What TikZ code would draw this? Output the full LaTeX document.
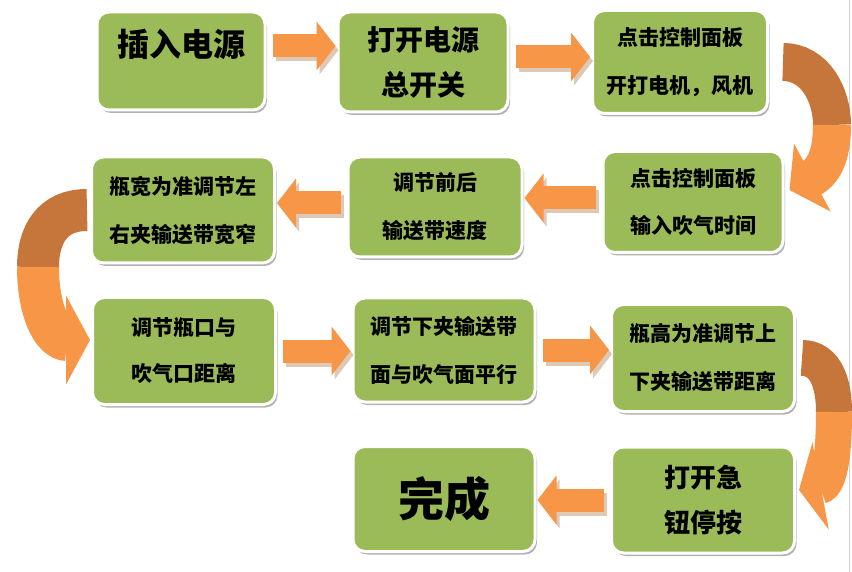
\documentclass[tikz,border=0pt]{standalone}
\usepackage{fontspec}
\setmainfont{Noto Sans CJK SC}
\usetikzlibrary{arrows.meta, shadows}
\definecolor{verde}{RGB}{155,187,89}
\definecolor{arancio}{RGB}{247,150,70}
\definecolor{arancioscuro}{RGB}{198,118,58}
\definecolor{ombra}{RGB}{222,200,182}
\tikzset{
  blocco/.style={rectangle, rounded corners=12pt, fill=verde, draw=white, line width=3pt,
    align=center, inner sep=0pt, text=black,
    drop shadow={shadow xshift=2pt, shadow yshift=-3pt, fill=black, opacity=0.3}},
  freccia/.style={arancio, line width=23pt, shorten <=6pt, shorten >=1pt,
    -{Triangle[length=19pt,width=48pt]}},
  frecciaombra/.style={freccia, ombra, transform canvas={xshift=3pt,yshift=-4pt}},
  curva/.style={arancio, line width=38pt},
}
\begin{document}
\begin{tikzpicture}[x=1pt,y=-1pt]
        \useasboundingbox (0,0) rectangle (852,572);
        %bordo pagina
        \draw[gray!35, line width=1pt] (849,0) -- (849,572);
        %disegno blocchi riga 1
        \node[blocco, minimum width=168pt, minimum height=98pt, font=\bfseries\fontsize{32}{34}\selectfont] (b1) at (181,61) {插入电源\\\phantom{插}};
        \node[blocco, minimum width=170pt, minimum height=100pt, font=\bfseries\fontsize{28}{45}\selectfont] (b2) at (423,62) {打开电源\\总开关};
        \node[blocco, minimum width=175pt, minimum height=103pt, font=\bfseries\fontsize{21}{48}\selectfont] (b3) at (680,62) {点击控制面板\\开打电机，风机};
        %disegno blocchi riga 2
        \node[blocco, minimum width=180pt, minimum height=101pt, font=\bfseries\fontsize{21}{47}\selectfont] (b4) at (693,202) {点击控制面板\\输入吹气时间};
        \node[blocco, minimum width=174pt, minimum height=100pt, font=\bfseries\fontsize{21}{48}\selectfont] (b5) at (435,207) {调节前后\\输送带速度};
        \node[blocco, minimum width=183pt, minimum height=106pt, font=\bfseries\fontsize{21}{48}\selectfont] (b6) at (183,210) {瓶宽为准调节左\\右夹输送带宽窄};
        %disegno blocchi riga 3
        \node[blocco, minimum width=183pt, minimum height=107pt, font=\bfseries\fontsize{21}{46}\selectfont] (b7) at (184,351) {调节瓶口与\\吹气口距离};
        \node[blocco, minimum width=182pt, minimum height=104pt, font=\bfseries\fontsize{21}{48}\selectfont] (b8) at (444,350) {调节下夹输送带\\面与吹气面平行};
        \node[blocco, minimum width=183pt, minimum height=107pt, font=\bfseries\fontsize{21}{48}\selectfont] (b9) at (703,358) {瓶高为准调节上\\下夹输送带距离};
        %disegno blocchi riga 4
        \node[blocco, minimum width=183pt, minimum height=106pt, font=\bfseries\fontsize{26}{45}\selectfont] (b10) at (703,500) {打开急\\钮停按};
        \node[blocco, minimum width=182pt, minimum height=105pt, font=\bfseries\fontsize{46}{50}\selectfont] (b11) at (444,499) {完成};
        %frecce curve
        \coordinate (m1) at (832,125);
        \draw[curva, arancioscuro] ([xshift=14pt]b3.east) .. controls +(32,0) and +(0,-30) .. (m1);
        \draw[curva, -{Triangle[length=26pt,width=76pt]}] (m1) .. controls +(0,25) and +(37,-20) .. ([xshift=5pt,yshift=12pt]b4.east);
        \coordinate (m2) at (38,267);
        \draw[curva, arancioscuro, line width=42pt] ([xshift=-3pt]b6.west) .. controls +(-35,0) and +(0,-32) .. (m2);
        \draw[curva, line width=42pt, -{Triangle[length=24pt,width=88pt]}] (m2) .. controls +(0,45) and +(-37,0) .. ([xshift=-1pt,yshift=11pt]b7.west);
        \coordinate (m3) at (834,412);
        \draw[curva, arancioscuro, line width=36pt] ([xshift=6pt]b9.east) .. controls +(24,0) and +(0,-28) .. (m3);
        \draw[curva, line width=36pt, -{Triangle[length=22pt,width=88pt]}] (m3) .. controls +(0,35) and +(32,-6) .. ([xshift=3pt,yshift=10pt]b10.east);
        %frecce dritte
        \draw[frecciaombra] ([yshift=15pt]b1.east) -- ([yshift=15pt]b1.east -| b2.west);
        \draw[freccia] ([yshift=15pt]b1.east) -- ([yshift=15pt]b1.east -| b2.west);
        \draw[frecciaombra] ([yshift=5pt]b2.east) -- ([yshift=5pt]b2.east -| b3.west);
        \draw[freccia] ([yshift=5pt]b2.east) -- ([yshift=5pt]b2.east -| b3.west);
        \draw[frecciaombra] ([yshift=4pt]b4.west) -- ([yshift=4pt]b4.west -| b5.east);
        \draw[freccia] ([yshift=4pt]b4.west) -- ([yshift=4pt]b4.west -| b5.east);
        \draw[frecciaombra] ([yshift=4pt]b5.west) -- ([yshift=4pt]b5.west -| b6.east);
        \draw[freccia] ([yshift=4pt]b5.west) -- ([yshift=4pt]b5.west -| b6.east);
        \draw[frecciaombra] (b7.east) -- (b7.east -| b8.west);
        \draw[freccia] (b7.east) -- (b7.east -| b8.west);
        \draw[frecciaombra] (b8.east) -- (b8.east -| b9.west);
        \draw[freccia] (b8.east) -- (b8.east -| b9.west);
        \draw[frecciaombra] (b10.west) -- (b10.west -| b11.east);
        \draw[freccia] (b10.west) -- (b10.west -| b11.east);
    \end{tikzpicture}
\end{document}
